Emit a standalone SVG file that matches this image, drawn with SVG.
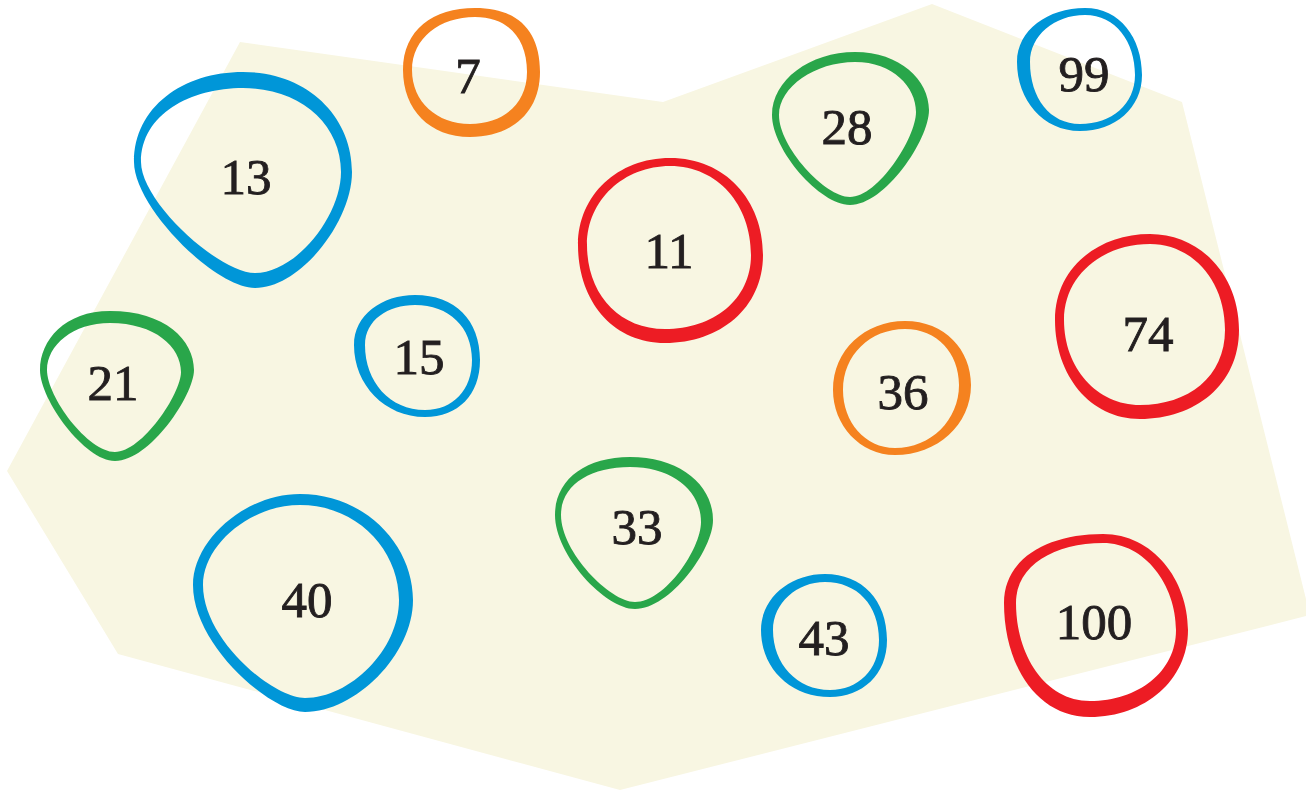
<svg xmlns="http://www.w3.org/2000/svg" width="1306" height="791" viewBox="0 0 1306 791">
<style>
.ring{fill-rule:evenodd;stroke:none}
.blue{fill:#0096d8}
.orange{fill:#f5821f}
.green{fill:#29a64a}
.red{fill:#ed1c24}
text{font-family:"Liberation Serif","Times New Roman",serif;font-size:51px;fill:#231f20;stroke:#231f20;stroke-width:0.9;text-anchor:middle}
</style>
<rect width="1306" height="791" fill="#ffffff"/>
<polygon id="region" points="240,42 663,102 932,4 1182,102 1310,615 620,790 118,654 7,471" fill="#f8f6e2"/>
<g id="connectors"></g>
<g id="n13">
<path class="ring blue" d="M243,72 C308,72 352,117 352,172 C352,222 300,288 255,288 C215,288 134,207 134,162 C134,107 183,72 243,72Z M243,88 C300,88 341,124 341,172 C341,216 296,273 255,273 C219,273 141,202 141,162 C141,114 191,88 243,88Z"/>
<text x="246" y="194">13</text>
</g>
<g id="n7">
<path class="ring orange" d="M475,8 C517,8 540,30 540,72 C540,112 512,137 470,137 C430,137 403,110 403,70 C403,30 433,8 475,8Z M475,17 C508,17 527,38 527,72 C527,104 503,124 470,124 C437,124 412,102 412,70 C412,38 440,17 475,17Z"/>
<text x="468" y="93">7</text>
</g>
<g id="n21">
<path class="ring green" d="M110,311 C165,311 194,340 194,370 C194,395 150,461 115,461 C85,461 40,400 40,370 C40,340 65,311 110,311Z M110,323 C155,323 181,347 181,372 C181,394 142,452 115,452 C88,452 47,397 47,370 C47,345 73,323 110,323Z"/>
<text x="113" y="400">21</text>
</g>
<g id="n15">
<path class="ring blue" d="M415,295 C455,295 480,320 480,360 C480,395 458,417 425,417 C385,417 354,385 354,345 C354,315 382,295 415,295Z M415,305 C449,305 472,327 472,360 C472,390 453,410 425,410 C390,410 365,382 365,345 C365,320 388,305 415,305Z"/>
<text x="419" y="374">15</text>
</g>
<g id="n11">
<path class="ring red" d="M670,158 C725,158 763,200 763,255 C763,308 720,343 665,343 C612,343 578,300 578,245 C578,195 618,158 670,158Z M670,166 C718,166 751,205 751,255 C751,300 713,329 665,329 C618,329 587,293 587,245 C587,200 624,166 670,166Z"/>
<text x="669" y="268">11</text>
</g>
<g id="n28">
<path class="ring green" d="M855,52 C900,52 929,80 929,110 C929,140 885,205 850,205 C820,205 772,150 772,115 C772,80 810,52 855,52Z M855,62 C893,62 916,87 916,112 C916,138 878,197 850,197 C825,197 779,147 779,115 C779,87 815,62 855,62Z"/>
<text x="847" y="144">28</text>
</g>
<g id="n99">
<path class="ring blue" d="M1085,8 C1120,8 1142,38 1142,75 C1142,108 1115,131 1080,131 C1043,131 1017,100 1017,62 C1017,30 1048,8 1085,8Z M1085,15 C1116,15 1135,42 1135,75 C1135,104 1112,124 1080,124 C1050,124 1030,98 1030,62 C1030,36 1054,15 1085,15Z"/>
<text x="1084" y="91">99</text>
</g>
<g id="n74">
<path class="ring red" d="M1150,234 C1200,234 1239,275 1239,330 C1239,385 1195,419 1140,419 C1090,419 1055,375 1055,320 C1055,268 1098,234 1150,234Z M1150,244 C1192,244 1225,280 1225,330 C1225,377 1188,405 1140,405 C1097,405 1064,368 1064,320 C1064,275 1103,244 1150,244Z"/>
<text x="1148" y="351">74</text>
</g>
<g id="n36">
<path class="ring orange" d="M905,321 C945,321 971,350 971,385 C971,425 937,455 895,455 C860,455 833,425 833,390 C833,350 865,321 905,321Z M905,329 C937,329 959,353 959,385 C959,420 931,448 895,448 C865,448 843,422 843,390 C843,355 870,329 905,329Z"/>
<text x="903" y="409">36</text>
</g>
<g id="n33">
<path class="ring green" d="M630,457 C680,457 713,485 713,520 C713,550 670,609 635,609 C605,609 555,555 555,515 C555,480 585,457 630,457Z M630,467 C673,467 701,491 701,522 C701,549 665,602 635,602 C610,602 561,552 561,515 C561,485 590,467 630,467Z"/>
<text x="637" y="544">33</text>
</g>
<g id="n40">
<path class="ring blue" d="M300,494 C365,494 413,545 413,600 C413,655 355,712 305,712 C270,712 193,645 193,585 C193,540 245,494 300,494Z M300,505 C358,505 399,551 399,600 C399,650 350,698 305,698 C273,698 203,640 203,585 C203,545 250,505 300,505Z"/>
<text x="307" y="617">40</text>
</g>
<g id="n43">
<path class="ring blue" d="M825,574 C862,574 887,600 887,640 C887,675 862,697 830,697 C790,697 761,668 761,630 C761,598 790,574 825,574Z M825,582 C857,582 879,605 879,640 C879,670 858,690 830,690 C797,690 773,664 773,630 C773,603 797,582 825,582Z"/>
<text x="824" y="655">43</text>
</g>
<g id="n100">
<path class="ring red" d="M1103,534 C1153,534 1188,580 1188,630 C1188,680 1145,717 1090,717 C1035,717 1004,663 1004,603 C1004,558 1048,534 1103,534Z M1103,543 C1145,543 1176,585 1176,630 C1176,672 1138,701 1090,701 C1045,701 1016,655 1016,603 C1016,565 1055,543 1103,543Z"/>
<text x="1094" y="639">100</text>
</g>
</svg>
